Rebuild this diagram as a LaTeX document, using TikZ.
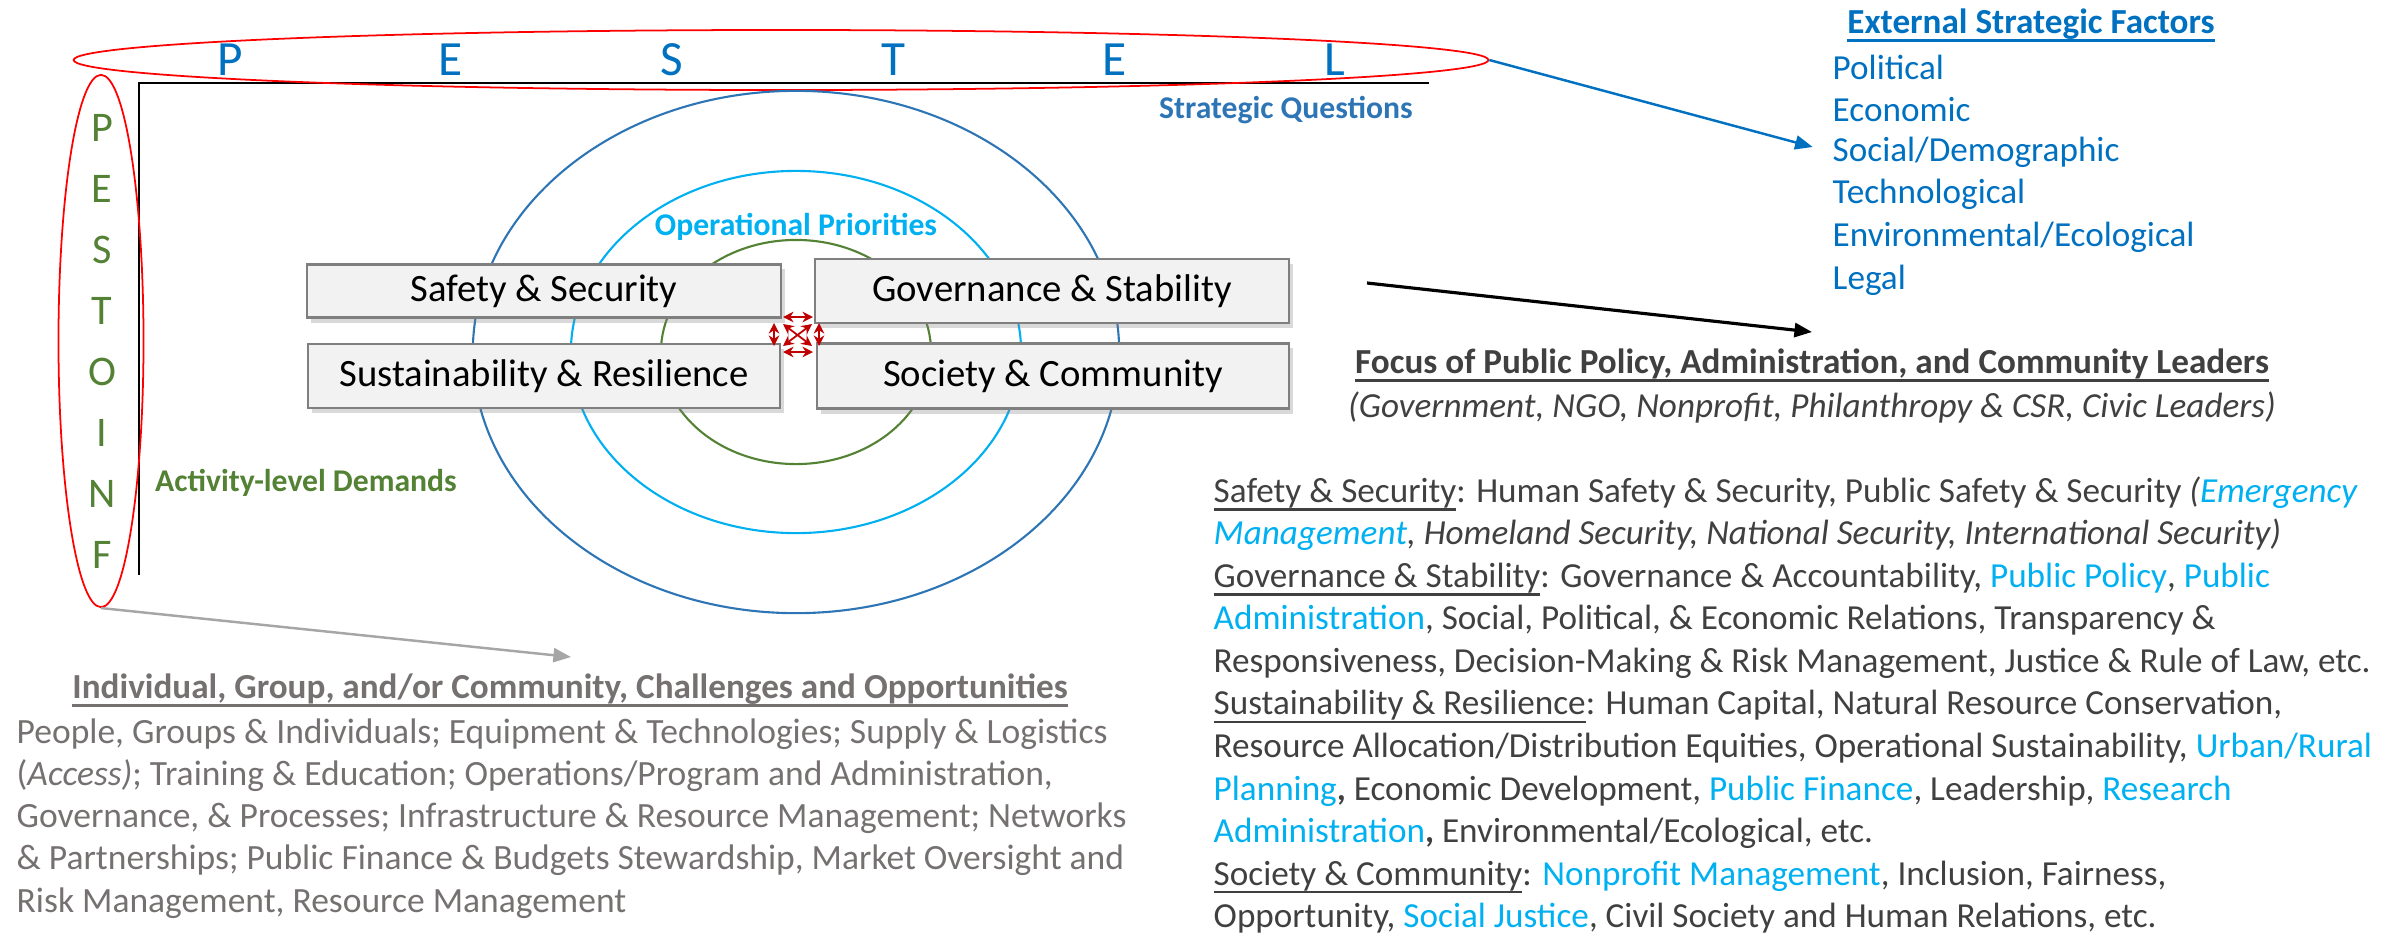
\documentclass[tikz,border=0pt]{standalone}
\usepackage{fontspec}
\setmainfont{Carlito}
\usetikzlibrary{shapes.geometric,arrows.meta,shadows}
\definecolor{pblue}{HTML}{0070C0}
\definecolor{sqblue}{HTML}{2E75B6}
\definecolor{lblue}{HTML}{00B0F0}
\definecolor{pgreen}{HTML}{548235}
\definecolor{dred}{HTML}{C00000}
\definecolor{boxfill}{HTML}{F2F2F2}
\definecolor{boxline}{HTML}{7F7F7F}
\definecolor{txtgray}{HTML}{404040}
\definecolor{ltgray}{HTML}{767171}
\definecolor{arrgray}{HTML}{A6A6A6}
\newcommand{\hi}[1]{\textcolor{lblue}{#1}}
\newcommand{\undl}[1]{\setbox0\hbox{#1}\rlap{\rule[-2.4pt]{\wd0}{0.7pt}}\box0}
\tikzset{
  area/.style={draw=boxline, fill=boxfill, line width=0.6pt, inner sep=0,
    drop shadow={shadow xshift=0.04cm, shadow yshift=-0.05cm, opacity=0.3},
    font=\fontsize{11}{13}\selectfont},
  letterh/.style={text=pblue, inner sep=0, font=\fontsize{14}{16}\selectfont},
  letterv/.style={text=pgreen, inner sep=0, font=\fontsize{12}{14}\selectfont},
  factor/.style={text=pblue, anchor=west, inner sep=0, font=\fontsize{10}{12}\selectfont},
  tag/.style={inner sep=0, font=\bfseries\fontsize{9}{11}\selectfont},
  redarr/.style={dred, line width=0.5pt, {Stealth[length=3pt,width=3pt]}-{Stealth[length=3pt,width=3pt]}}
}
\begin{document}
\begin{tikzpicture}[x=0.01cm, y=-0.01cm]
  \useasboundingbox (0,0) rectangle (2395,933);
  \draw[line width=0.8pt] (1429,83) -- (139,83) -- (139,575);
  \node[draw=red, line width=0.5pt, ellipse, minimum width=14.14cm, minimum height=0.6cm, inner sep=0] (pestelh) at (781,60) {};
  \node[draw=red, line width=0.5pt, ellipse, minimum width=0.85cm, minimum height=5.32cm, inner sep=0] (pestelv) at (101,341) {};
  \foreach \l [count=\i] in {P,E,S,T,E,L}
    \node[letterh] (h\i) at ({230+221*(\i-1)},60) {\l};
  \foreach \l [count=\i] in {P,E,S,T,O,I,N,F}
    \node[letterv] (v\i) at (102,{128+61*(\i-1)}) {\l};
  \node[tag, text=sqblue] (strategic) at (1286,110) {Strategic Questions};
  \node[tag, text=pgreen] (activity) at (306,483) {Activity-level Demands};

  \draw[sqblue, line width=0.6pt] (796,352) ellipse [x radius=3.23cm, y radius=2.61cm];
  \draw[lblue, line width=0.6pt] (796,352) ellipse [x radius=2.25cm, y radius=1.81cm];
  \draw[pgreen, line width=0.6pt] (796,352) ellipse [x radius=1.35cm, y radius=1.12cm];
  \node[tag, text=lblue] (oper) at (796,227) {Operational Priorities};

  \node[area, minimum width=4.73cm, minimum height=0.53cm] (safety) at (544,291) {Safety \& Security};
  \node[area, minimum width=4.74cm, minimum height=0.64cm] (govern) at (1052,291) {Governance \& Stability};
  \node[area, minimum width=4.71cm, minimum height=0.64cm] (sustain) at (544,376) {Sustainability \& Resilience};
  \node[area, minimum width=4.72cm, minimum height=0.65cm] (society) at (1053,376) {Society \& Community};

  \begin{scope}
    \draw[redarr] (783,317) -- (813,317);
    \draw[redarr] (783,352) -- (813,352);
    \draw[redarr] (774,323) -- (774,346);
    \draw[redarr] (819,323) -- (819,346);
    \draw[redarr] (783,324) -- (812,346);
    \draw[redarr] (812,324) -- (783,346);
  \end{scope}

  \node[text=pblue, inner sep=0, font=\bfseries\fontsize{10}{12}\selectfont] (external) at (2031,25) {\undl{External Strategic Factors}};
  \foreach \f/\n [count=\i] in {Political/pol, Economic/eco, Social\slash Demographic/soc, Technological/tec, Environmental\slash Ecological/env, Legal/leg}
    \node[factor] (\n) at (1832,{67+42.6*(\i-1)}) {\f};

  \node[text=txtgray, inner sep=0, font=\bfseries\fontsize{10}{12}\selectfont] (focus) at (1812,365) {\undl{Focus of Public Policy, Administration, and Community Leaders}};
  \node[text=txtgray, inner sep=0, font=\itshape\fontsize{10}{12}\selectfont] (leaders) at (1812,407) {(Government, NGO, Nonprofit, Philanthropy \& CSR, Civic Leaders)};

  \node[anchor=north west, inner sep=0, align=left, text=txtgray, font=\fontsize{10}{12.09}\selectfont] (areas) at (1213,476) {%
    \undl{Safety \& Security}: Human Safety \& Security, Public Safety \& Security \textit{(\hi{Emergency}}\\
    \textit{\hi{Management}, Homeland Security, National Security, International Security)}\\
    \undl{Governance \& Stability}: Governance \& Accountability, \hi{Public Policy}, \hi{Public}\\
    \hi{Administration}, Social, Political, \& Economic Relations, Transparency \&\\
    Responsiveness, Decision-Making \& Risk Management, Justice \& Rule of Law, etc.\\
    \undl{Sustainability \& Resilience}: Human Capital, Natural Resource Conservation,\\
    Resource Allocation/Distribution Equities, Operational Sustainability, \hi{Urban/Rural}\\
    \hi{Planning}\textbf{,} Economic Development, \hi{Public Finance}, Leadership, \hi{Research}\\
    \hi{Administration}\textbf{,} Environmental/Ecological, etc.\\
    \undl{Society \& Community}: \hi{Nonprofit Management}, Inclusion, Fairness,\\
    Opportunity, \hi{Social Justice}, Civil Society and Human Relations, etc.};

  \node[text=ltgray, inner sep=0, font=\bfseries\fontsize{10}{12}\selectfont] (challenges) at (570,690) {\undl{Individual, Group, and/or Community, Challenges and Opportunities}};
  \node[anchor=north west, inner sep=0, align=left, text=ltgray, font=\fontsize{10.1}{12}\selectfont] (resources) at (16,718) {%
    People, Groups \& Individuals; Equipment \& Technologies; Supply \& Logistics\\
    (\textit{Access)}; Training \& Education; Operations/Program and Administration,\\
    Governance, \& Processes; Infrastructure \& Resource Management; Networks\\
    \& Partnerships; Public Finance \& Budgets Stewardship, Market Oversight and\\
    Risk Management, Resource Management};

  \coordinate (focstart) at (1367,283);
  \coordinate (focend) at (1812,332);
  \coordinate (chalend) at (571,657);
  \draw[pblue, line width=0.7pt, shorten >=0.2cm, -{Triangle[length=5pt,width=4pt]}] (pestelh.east) -- (soc.west);
  \draw[line width=0.9pt, -{Triangle[length=5pt,width=4pt]}] (focstart) -- (focend);
  \draw[arrgray, line width=0.7pt, -{Triangle[length=5pt,width=4pt]}] (pestelv.south) -- (chalend);
\end{tikzpicture}
\end{document}
